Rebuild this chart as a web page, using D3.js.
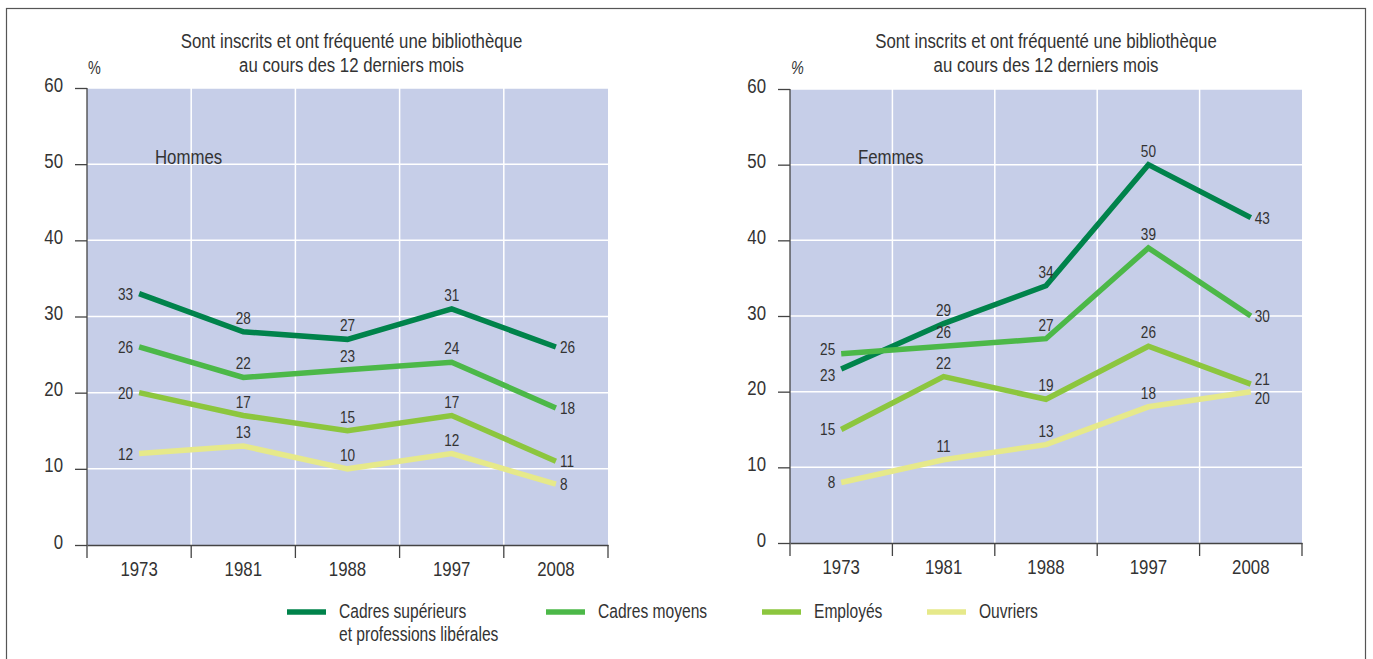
<!DOCTYPE html>
<html>
<head>
<meta charset="utf-8">
<script src="https://cdn.jsdelivr.net/npm/d3@7"></script>
<style>
  body { margin: 0; background: #fff; }
  svg text { font-family: "Liberation Sans", Arial, sans-serif; fill: #333; }
</style>
</head>
<body>
<svg id="chart" width="1373" height="659"></svg>
<script>
// data
var years = ["1973", "1981", "1988", "1997", "2008"];
var categories = ["Cadres supérieurs\net professions libérales", "Cadres moyens", "Employés", "Ouvriers"];
var colors = ["#00834b", "#4cb848", "#8cc63e", "#e6e98a"];
var yTicks = [0, 10, 20, 30, 40, 50, 60];

var hommesCadresSup = [33, 28, 27, 31, 26];
var hommesCadresMoy = [26, 22, 23, 24, 18];
var hommesEmployes  = [20, 17, 15, 17, 11];
var hommesOuvriers  = [12, 13, 10, 12, 8];

var femmesCadresSup = [23, 29, 34, 50, 43];
var femmesCadresMoy = [25, 26, 27, 39, 30];
var femmesEmployes  = [15, 22, 19, 26, 21];
var femmesOuvriers  = [8, 11, 13, 18, 20];

// the original uses a condensed face, so every text gets squeezed horizontally
var SX = 0.8;

var svg = d3.select("#chart");

// outer frame
svg.append("rect")
    .attr("x", 6.5).attr("y", 8.5)
    .attr("width", 1359).attr("height", 660)
    .attr("fill", "none").attr("stroke", "#555").attr("stroke-width", 1.2);

panel({left: 87, right: 608, top: 88, bottom: 545, label: "Hommes", pctItalic: false, titleShift: 4},
      [hommesCadresSup, hommesCadresMoy, hommesEmployes, hommesOuvriers]);
panel({left: 790, right: 1302, top: 89, bottom: 543, label: "Femmes", pctItalic: true, titleShift: 0},
      [femmesCadresSup, femmesCadresMoy, femmesEmployes, femmesOuvriers]);

function panel(p, data) {
  var x = d3.scaleBand().domain(years).range([p.left, p.right]);
  var y = d3.scaleLinear().domain([0, 60]).range([p.bottom, p.top]);
  var g = svg.append("g");

  g.append("rect")
      .attr("x", p.left).attr("y", p.top)
      .attr("width", p.right - p.left).attr("height", p.bottom - p.top)
      .attr("fill", "#c6cee8");

  // grid
  g.selectAll(".hgrid").data(yTicks.slice(1)).enter().append("line")
      .attr("x1", p.left).attr("x2", p.right)
      .attr("y1", function(d) { return y(d); }).attr("y2", function(d) { return y(d); })
      .attr("stroke", "#fff").attr("stroke-width", 1.5);
  g.selectAll(".vgrid").data(years.slice(1)).enter().append("line")
      .attr("x1", function(d) { return x(d); }).attr("x2", function(d) { return x(d); })
      .attr("y1", p.top).attr("y2", p.bottom)
      .attr("stroke", "#fff").attr("stroke-width", 1.5);

  // y axis
  var ya = g.append("g")
      .attr("transform", "translate(" + p.left + ",0)")
      .call(d3.axisLeft(y).tickValues(yTicks).tickSize(12).tickPadding(12));
  ya.select(".domain").remove();
  ya.selectAll("line").attr("stroke", "#444").attr("stroke-width", 1.3);
  ya.selectAll("text").attr("font-size", "21px").attr("fill", "#333").attr("dy", "3px")
      .style("font-family", null);
  g.append("line")
      .attr("x1", p.left).attr("x2", p.left)
      .attr("y1", p.top).attr("y2", p.bottom + 13)
      .attr("stroke", "#444").attr("stroke-width", 1.3);

  // x axis
  var xa = g.append("g")
      .attr("transform", "translate(0," + p.bottom + ")")
      .call(d3.axisBottom(x).tickSize(0).tickPadding(16));
  xa.select(".domain").attr("stroke", "#444").attr("stroke-width", 1.3);
  xa.selectAll("text").attr("font-size", "21px").attr("fill", "#333")
      .attr("dy", null).attr("y", 31);
  g.selectAll(".xtick").data(years.slice(1).concat(["end"])).enter().append("line")
      .attr("x1", function(d) { return d === "end" ? p.right : x(d); })
      .attr("x2", function(d) { return d === "end" ? p.right : x(d); })
      .attr("y1", p.bottom).attr("y2", p.bottom + 13)
      .attr("stroke", "#444").attr("stroke-width", 1.3);

  // titles
  var cx = (p.left + p.right) / 2 + p.titleShift;
  g.append("text").attr("x", cx).attr("y", 48).attr("text-anchor", "middle")
      .attr("font-size", "21px").text("Sont inscrits et ont fréquenté une bibliothèque");
  g.append("text").attr("x", cx).attr("y", 72).attr("text-anchor", "middle")
      .attr("font-size", "21px").text("au cours des 12 derniers mois");
  g.append("text").attr("x", p.left + 1).attr("y", 74)
      .attr("font-size", "18px").attr("font-style", p.pctItalic ? "italic" : "normal").text("%");
  g.append("text").attr("x", p.left + 68).attr("y", 164)
      .attr("font-size", "21px").text(p.label);

  // lines
  var line = d3.line()
      .x(function(d, i) { return x(years[i]) + x.bandwidth() / 2; })
      .y(function(d) { return y(d); });

  data.forEach(function(s, k) {
    g.append("path")
        .attr("d", line(s))
        .attr("fill", "none")
        .attr("stroke", colors[k])
        .attr("stroke-width", 5.5)
        .attr("stroke-linejoin", "miter");
  });

  // value labels
  data.forEach(function(s, k) {
    s.forEach(function(v, i) {
      var px = x(years[i]) + x.bandwidth() / 2, py = y(v);
      var t = g.append("text").attr("font-size", "17px").text(v);
      if (i === 0 || i === years.length - 1) {
        var nudge = 0;
        data.forEach(function(o, j) {
          if (j !== k && Math.abs(o[i] - v) <= 2) nudge = v > o[i] ? -5 : 6;
        });
        t.attr("x", i === 0 ? px - 6 : px + 4)
         .attr("y", py + 6 + nudge)
         .attr("text-anchor", i === 0 ? "end" : "start");
      } else {
        t.attr("x", px).attr("y", py - 8).attr("text-anchor", "middle");
      }
    });
  });
}

// legend
var legendX = [287, 546, 762, 927];
var lg = svg.append("g");
categories.forEach(function(c, k) {
  lg.append("line")
      .attr("x1", legendX[k]).attr("x2", legendX[k] + 39)
      .attr("y1", 612).attr("y2", 612)
      .attr("stroke", colors[k]).attr("stroke-width", 5.5);
  var t = lg.append("text").attr("x", legendX[k] + 52).attr("y", 618).attr("font-size", "19.5px");
  c.split("\n").forEach(function(part, i) {
    t.append("tspan").attr("x", legendX[k] + 52).attr("dy", i === 0 ? 0 : 23).text(part);
  });
});

// squeeze all text horizontally around its own anchor
svg.selectAll("text").each(function() {
  var t = d3.select(this);
  t.attr("x", (+t.attr("x") || 0) / SX).attr("transform", "scale(" + SX + ",1)");
  t.selectAll("tspan").each(function() {
    var ts = d3.select(this);
    if (ts.attr("x") != null) ts.attr("x", +ts.attr("x") / SX);
  });
});
</script>
</body>
</html>
